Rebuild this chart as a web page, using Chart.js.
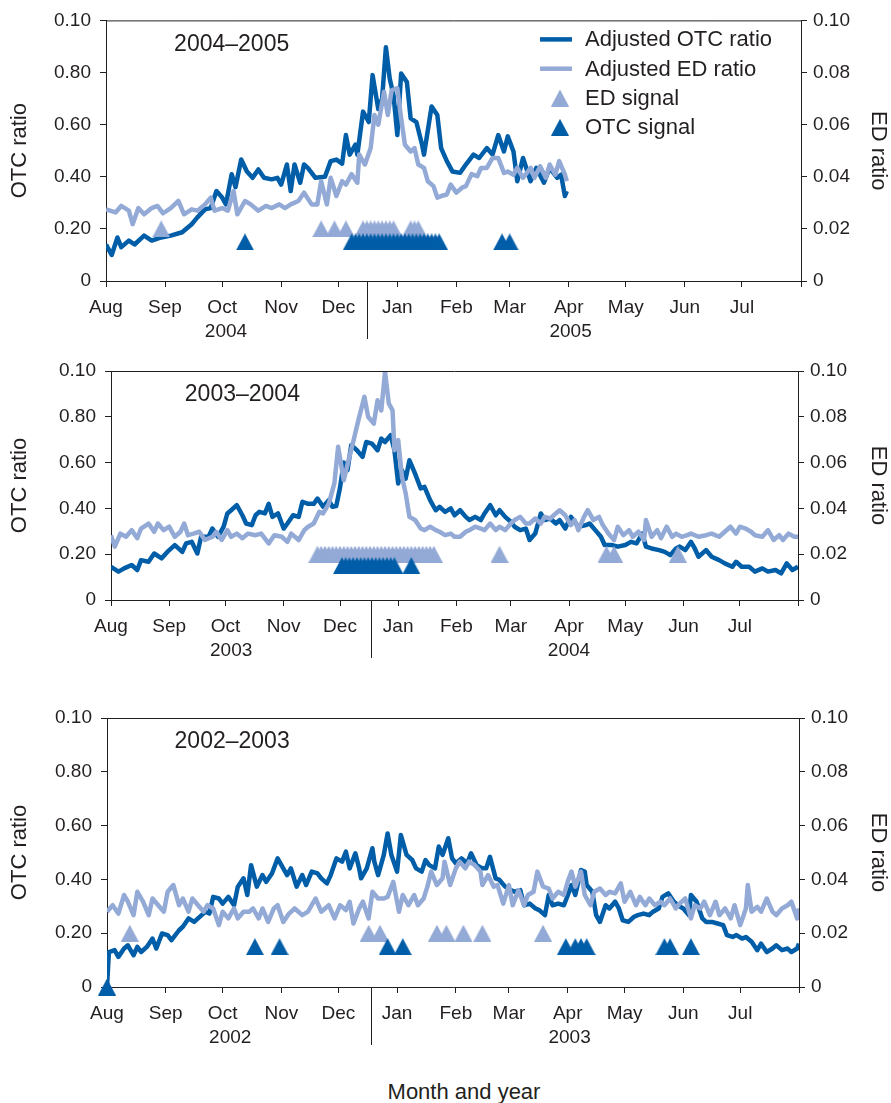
<!DOCTYPE html>
<html>
<head>
<meta charset="utf-8">
<script src="https://cdn.jsdelivr.net/npm/chart.js@4.4.0/dist/chart.umd.min.js"></script>
<style>
  body { margin: 0; background: #fff; width: 891px; height: 1103px; position: relative; overflow: hidden;
         font-family: "Liberation Sans", Arial, sans-serif; }
  canvas { position: absolute; left: 0; }
  #xtitle { position: absolute; left: 314px; width: 300px; top: 1079px; text-align: center;
            font-size: 22px; line-height: 26px; color: #231f20; }
</style>
</head>
<body>
<div id="xtitle">Month and year</div>
<script>
// ---- data: [day since Aug 1, value] ----
const monthLabels = ['Aug', 'Sep', 'Oct', 'Nov', 'Dec', 'Jan', 'Feb', 'Mar', 'Apr', 'May', 'Jun', 'Jul', ''];
const monthStarts = [0, 31, 61, 92, 122, 153, 184, 212, 243, 273, 304, 334, 365];
const monthStartsLeap = [0, 31, 61, 92, 122, 153, 184, 213, 244, 274, 305, 335, 366];
const otcTickValues = [0, 0.2, 0.4, 0.6, 0.8, 1];
const otcTickLabels = ['0', '0.20', '0.40', '0.60', '0.80', '0.10'];
const edTickValues = [0, 0.02, 0.04, 0.06, 0.08, 0.1];
const edTickLabels = ['0', '0.02', '0.04', '0.06', '0.08', '0.10'];
const OTC_SIGNAL_LEVEL = 0.15;
const ED_SIGNAL_LEVEL = 0.20;

// 2004-2005
const otc0405 = [[0,0.14],[3,0.10],[6,0.167],[8,0.13],[12,0.155],[15,0.14],[20,0.174],[24,0.155],[29,0.167],[34,0.174],[40,0.187],[45,0.218],[48,0.244],[52,0.275],[55,0.28],[58,0.345],[61,0.32],[63,0.294],[66,0.41],[68,0.36],[71,0.466],[74,0.42],[77,0.396],[80,0.428],[83,0.396],[87,0.39],[90,0.396],[92,0.37],[95,0.447],[97,0.345],[99,0.447],[102,0.377],[104,0.447],[106,0.434],[110,0.396],[115,0.40],[118,0.46],[121,0.466],[124,0.45],[126,0.56],[128,0.485],[131,0.523],[132,0.485],[135,0.65],[138,0.61],[140,0.79],[143,0.66],[145,0.70],[147,0.897],[149,0.777],[151,0.713],[153,0.56],[155,0.796],[158,0.764],[160,0.624],[163,0.61],[166,0.523],[167,0.485],[171,0.67],[174,0.637],[176,0.51],[179,0.46],[182,0.42],[186,0.415],[189,0.447],[193,0.485],[196,0.472],[200,0.51],[203,0.485],[206,0.56],[209,0.497],[211,0.555],[214,0.497],[216,0.383],[219,0.472],[223,0.383],[226,0.434],[230,0.377],[233,0.434],[237,0.396],[239,0.408],[241,0.326],[242,0.345]];
const ed0405 = [[0,0.0275],[5,0.0263],[8,0.0288],[12,0.027],[14,0.0218],[17,0.028],[20,0.0256],[24,0.028],[27,0.0288],[30,0.026],[34,0.028],[38,0.0307],[41,0.0256],[45,0.0275],[48,0.027],[52,0.0294],[55,0.032],[57,0.027],[61,0.028],[64,0.027],[67,0.0345],[69,0.0256],[73,0.0307],[76,0.0294],[80,0.027],[84,0.0288],[87,0.028],[91,0.0294],[94,0.028],[97,0.0294],[101,0.0307],[104,0.0339],[108,0.0294],[111,0.0294],[113,0.0383],[116,0.0294],[118,0.0396],[121,0.0326],[124,0.0383],[126,0.037],[129,0.041],[132,0.0377],[133,0.0485],[136,0.0447],[139,0.051],[141,0.0637],[143,0.06],[146,0.0726],[148,0.0637],[150,0.0732],[153,0.074],[155,0.0624],[157,0.0523],[160,0.0497],[162,0.051],[164,0.0447],[167,0.0434],[169,0.0383],[172,0.0364],[174,0.032],[176,0.0326],[179,0.0332],[181,0.037],[184,0.0339],[187,0.0358],[189,0.0364],[192,0.041],[195,0.0402],[197,0.0434],[200,0.0434],[203,0.0472],[206,0.0472],[209,0.0415],[211,0.042],[214,0.0408],[216,0.0434],[219,0.0396],[223,0.0434],[225,0.0396],[228,0.044],[231,0.0396],[233,0.0447],[236,0.0408],[238,0.046],[241,0.0408],[242,0.0383]];
const edSignal0405 = [29, 113, 120, 126, 135, 137, 139, 141, 143, 145, 147, 149, 151, 160, 162, 164];
const otcSignal0405 = [73, 129, 131, 133, 135, 137, 139, 141, 143, 145, 147, 149, 151, 153, 155, 157, 159, 161, 163, 165, 167, 169, 171, 173, 175, 208, 212];

// 2003-2004
const otc0304 = [[0,0.145],[4,0.124],[7,0.138],[11,0.153],[14,0.131],[16,0.174],[20,0.167],[23,0.203],[27,0.182],[30,0.21],[34,0.24],[38,0.21],[40,0.247],[43,0.254],[46,0.203],[48,0.276],[52,0.276],[54,0.312],[57,0.276],[60,0.32],[62,0.378],[64,0.392],[67,0.414],[70,0.37],[72,0.334],[75,0.327],[77,0.37],[79,0.385],[82,0.378],[84,0.42],[86,0.363],[89,0.378],[92,0.312],[94,0.334],[97,0.37],[100,0.363],[102,0.429],[105,0.42],[108,0.42],[110,0.443],[113,0.407],[116,0.436],[118,0.407],[120,0.41],[122,0.49],[124,0.6],[126,0.567],[128,0.676],[131,0.654],[134,0.625],[136,0.69],[139,0.683],[142,0.654],[144,0.705],[146,0.69],[149,0.72],[151,0.654],[153,0.509],[155,0.567],[157,0.53],[159,0.61],[162,0.552],[165,0.487],[167,0.494],[170,0.436],[173,0.392],[175,0.407],[178,0.385],[181,0.4],[183,0.37],[186,0.392],[189,0.363],[191,0.349],[194,0.363],[197,0.349],[199,0.378],[202,0.414],[205,0.37],[207,0.392],[210,0.363],[213,0.342],[215,0.32],[218,0.305],[221,0.312],[223,0.262],[226,0.29],[229,0.378],[231,0.349],[234,0.356],[237,0.334],[239,0.349],[242,0.312],[245,0.363],[249,0.32],[253,0.327],[255,0.334],[258,0.305],[261,0.276],[263,0.24],[267,0.24],[270,0.233],[274,0.24],[277,0.254],[280,0.247],[283,0.29],[285,0.233],[288,0.225],[292,0.218],[295,0.21],[298,0.196],[301,0.225],[303,0.233],[306,0.218],[309,0.254],[311,0.225],[313,0.189],[317,0.218],[320,0.189],[324,0.174],[327,0.16],[331,0.145],[333,0.167],[336,0.145],[340,0.145],[343,0.124],[347,0.138],[350,0.124],[354,0.131],[357,0.116],[360,0.16],[363,0.131],[366,0.145]];
const ed0304 = [[0,0.0283],[2,0.0233],[5,0.029],[8,0.0276],[11,0.0305],[14,0.027],[16,0.0312],[20,0.0334],[23,0.0298],[25,0.0334],[28,0.0305],[31,0.032],[34,0.0276],[37,0.0298],[39,0.0334],[41,0.0283],[44,0.029],[47,0.0298],[50,0.0262],[54,0.0276],[56,0.0298],[59,0.0262],[62,0.0305],[64,0.0276],[67,0.029],[70,0.027],[73,0.029],[77,0.0283],[80,0.029],[84,0.0247],[87,0.0283],[91,0.0276],[94,0.0254],[96,0.029],[100,0.0262],[103,0.0305],[105,0.032],[108,0.0334],[111,0.0385],[113,0.0378],[116,0.042],[119,0.0509],[121,0.0669],[124,0.0523],[127,0.0625],[129,0.069],[132,0.0792],[135,0.0887],[137,0.08],[140,0.077],[142,0.0872],[144,0.0828],[146,0.0996],[148,0.0858],[150,0.0828],[151,0.0654],[153,0.0698],[155,0.0538],[157,0.0465],[159,0.0363],[162,0.0349],[165,0.0312],[167,0.0305],[170,0.032],[173,0.0305],[175,0.0298],[178,0.0283],[181,0.029],[183,0.0276],[186,0.0276],[189,0.0298],[191,0.0305],[194,0.032],[197,0.0312],[199,0.0305],[202,0.0334],[205,0.0305],[207,0.032],[210,0.0305],[213,0.0334],[215,0.0349],[218,0.0363],[221,0.0334],[223,0.0334],[226,0.0356],[229,0.0334],[231,0.0363],[234,0.0356],[237,0.0378],[239,0.0392],[242,0.037],[245,0.0327],[247,0.0349],[249,0.0305],[252,0.0363],[254,0.0392],[257,0.0349],[260,0.0363],[262,0.0327],[265,0.029],[268,0.0262],[270,0.032],[273,0.0283],[276,0.0305],[278,0.0276],[281,0.0298],[284,0.0262],[285,0.0349],[288,0.0276],[291,0.0305],[293,0.027],[296,0.032],[299,0.0276],[301,0.029],[304,0.0276],[307,0.0283],[309,0.029],[313,0.0276],[317,0.0283],[320,0.029],[324,0.0276],[327,0.0298],[330,0.032],[333,0.029],[335,0.032],[338,0.0312],[341,0.0298],[343,0.0283],[347,0.0276],[350,0.0305],[353,0.0262],[356,0.0283],[358,0.0262],[361,0.029],[364,0.0276],[366,0.0276]];
const edSignal0304 = [110, 112, 114, 116, 118, 120, 122, 124, 126, 128, 130, 132, 134, 136, 138, 140, 142, 144, 146, 148, 150, 152, 154, 156, 158, 160, 162, 164, 166, 168, 170, 172, 207, 264, 268, 302];
const otcSignal0304 = [123, 125, 127, 129, 131, 133, 135, 137, 139, 141, 143, 145, 147, 149, 151, 160];

// 2002-2003
const otc0203 = [[0,0],[1,0.13],[4,0.137],[6,0.112],[9,0.143],[11,0.155],[14,0.118],[16,0.149],[18,0.13],[21,0.149],[24,0.18],[26,0.143],[29,0.199],[32,0.193],[34,0.174],[38,0.211],[40,0.224],[43,0.255],[46,0.242],[48,0.255],[52,0.28],[54,0.273],[56,0.335],[59,0.329],[61,0.31],[64,0.335],[67,0.304],[69,0.373],[72,0.404],[74,0.342],[76,0.453],[79,0.373],[82,0.416],[84,0.391],[87,0.422],[90,0.478],[92,0.453],[95,0.416],[97,0.441],[100,0.373],[103,0.416],[105,0.379],[108,0.429],[111,0.422],[113,0.404],[116,0.385],[118,0.416],[121,0.478],[124,0.466],[126,0.503],[128,0.441],[131,0.497],[133,0.441],[134,0.404],[137,0.441],[140,0.516],[141,0.466],[143,0.416],[146,0.491],[148,0.571],[150,0.491],[153,0.429],[155,0.565],[158,0.491],[161,0.472],[163,0.441],[166,0.429],[168,0.472],[170,0.453],[173,0.441],[175,0.522],[177,0.491],[180,0.553],[182,0.478],[184,0.46],[187,0.478],[190,0.46],[192,0.497],[195,0.453],[198,0.441],[200,0.441],[202,0.484],[205,0.404],[207,0.398],[210,0.373],[213,0.36],[215,0.354],[218,0.36],[220,0.304],[223,0.31],[226,0.292],[228,0.286],[231,0.267],[233,0.342],[235,0.304],[238,0.31],[241,0.304],[243,0.34],[245,0.379],[247,0.342],[250,0.435],[252,0.429],[253,0.379],[256,0.354],[258,0.267],[260,0.242],[263,0.304],[265,0.292],[268,0.317],[270,0.292],[272,0.248],[275,0.242],[278,0.261],[280,0.267],[283,0.273],[286,0.267],[288,0.28],[291,0.292],[293,0.335],[296,0.348],[299,0.317],[301,0.304],[304,0.292],[307,0.267],[308,0.342],[311,0.317],[314,0.255],[316,0.242],[319,0.242],[322,0.236],[325,0.23],[327,0.193],[330,0.186],[332,0.193],[335,0.18],[337,0.186],[340,0.168],[343,0.137],[345,0.161],[348,0.13],[351,0.143],[353,0.155],[356,0.137],[359,0.143],[361,0.13],[364,0.143],[365,0.161]];
const ed0203 = [[0,0.028],[3,0.0304],[6,0.0273],[9,0.0342],[11,0.0317],[14,0.0267],[16,0.0354],[19,0.0317],[22,0.0267],[24,0.0329],[27,0.0304],[30,0.028],[32,0.0354],[35,0.0379],[38,0.0304],[40,0.0329],[43,0.028],[45,0.0329],[48,0.0304],[51,0.028],[53,0.0304],[56,0.0292],[59,0.023],[61,0.028],[64,0.0255],[67,0.0292],[69,0.0255],[72,0.028],[75,0.028],[77,0.0292],[80,0.0255],[82,0.0292],[85,0.0242],[88,0.0292],[90,0.0304],[93,0.0242],[96,0.0273],[99,0.0292],[103,0.0267],[106,0.028],[110,0.0329],[113,0.028],[117,0.0304],[120,0.0255],[123,0.0304],[126,0.0286],[128,0.0317],[130,0.0236],[133,0.0292],[135,0.0317],[138,0.0255],[140,0.0354],[143,0.0329],[146,0.0329],[148,0.0335],[151,0.0391],[154,0.028],[156,0.0342],[159,0.0304],[162,0.0342],[164,0.0304],[167,0.0329],[169,0.0373],[171,0.0429],[174,0.0379],[177,0.0404],[178,0.0466],[181,0.0379],[184,0.0441],[186,0.0466],[189,0.0441],[191,0.0466],[194,0.0453],[197,0.0429],[198,0.0379],[201,0.0416],[204,0.0373],[206,0.0379],[209,0.031],[212,0.0379],[214,0.0304],[217,0.036],[220,0.0304],[222,0.0342],[225,0.0354],[227,0.0429],[230,0.0373],[233,0.0366],[235,0.0329],[238,0.0354],[241,0.0342],[243,0.0391],[245,0.0429],[247,0.0373],[250,0.0429],[252,0.0342],[255,0.0304],[257,0.0354],[260,0.0366],[263,0.0342],[265,0.0354],[268,0.0348],[271,0.0385],[273,0.0317],[276,0.0354],[279,0.0304],[281,0.0335],[284,0.0304],[286,0.0329],[289,0.0304],[292,0.0317],[294,0.0304],[297,0.0329],[300,0.0292],[302,0.031],[305,0.0329],[308,0.0255],[310,0.0304],[313,0.0292],[315,0.0317],[318,0.0267],[321,0.0317],[323,0.0267],[326,0.0292],[329,0.0255],[331,0.0304],[334,0.023],[337,0.0292],[338,0.0379],[340,0.028],[343,0.0298],[345,0.028],[348,0.0329],[351,0.028],[353,0.0267],[356,0.0292],[359,0.0304],[361,0.0317],[364,0.0255],[365,0.0292]];
const edSignal0203 = [12, 138, 144, 174, 179, 188, 198, 230];
const otcSignal0203 = [78, 91, 148, 156, 242, 247, 250, 253, 294, 297, 308];
const otcSignal0203Start = [[0, 0]];

// ---- styling ----
const DARK = '#005da8';
const LIGHT = '#93a9d6';
const INK = '#231f20';
const FONT = '"Liberation Sans", Arial, sans-serif';
Chart.defaults.font.family = FONT;
Chart.defaults.color = INK;

function triangleImage(color) {
  const c = document.createElement('canvas');
  c.width = 18; c.height = 17;
  const g = c.getContext('2d');
  g.fillStyle = color;
  g.beginPath();
  g.moveTo(9, 0); g.lineTo(18, 17); g.lineTo(0, 17); g.closePath();
  g.fill();
  return c;
}
const darkTri = triangleImage(DARK);
const lightTri = triangleImage(LIGHT);

const decorPlugin = {
  id: 'decor',
  afterDraw(chart, args, opts) {
    const { ctx, chartArea: a } = chart;
    const x = chart.scales.x;
    ctx.save();
    ctx.strokeStyle = INK;
    ctx.lineWidth = 1;
    ctx.beginPath();
    ctx.moveTo(a.left, a.top + 0.5);
    ctx.lineTo(a.right, a.top + 0.5);
    ctx.stroke();

    const dx = Math.round(x.getPixelForValue(opts.divider)) + 0.5;
    ctx.beginPath();
    ctx.moveTo(dx, a.bottom);
    ctx.lineTo(dx, a.bottom + 58);
    ctx.stroke();

    ctx.fillStyle = INK;
    ctx.textAlign = 'center';
    ctx.textBaseline = 'middle';
    ctx.font = '19px ' + FONT;
    opts.years.forEach(([d, t]) => ctx.fillText(t, x.getPixelForValue(d), a.bottom + 51));

    ctx.font = '23px ' + FONT;
    ctx.fillText(opts.title, x.getPixelForValue(opts.titleDay), a.top + 24);

    if (opts.legend) {
      const items = [
        { text: 'Adjusted OTC ratio', line: DARK },
        { text: 'Adjusted ED ratio', line: LIGHT },
        { text: 'ED signal', tri: lightTri },
        { text: 'OTC signal', tri: darkTri }
      ];
      ctx.font = '22px ' + FONT;
      ctx.textAlign = 'left';
      items.forEach((it, i) => {
        const y = a.top + 19 + i * 29.3;
        if (it.line) {
          ctx.strokeStyle = it.line;
          ctx.lineWidth = 4.5;
          ctx.beginPath();
          ctx.moveTo(a.right - 261, y);
          ctx.lineTo(a.right - 229, y);
          ctx.stroke();
        } else {
          ctx.drawImage(it.tri, a.right - 250, y - 8.5);
        }
        ctx.fillStyle = INK;
        ctx.fillText(it.text, a.right - 216, y + 1);
      });
    }
    ctx.restore();
  }
};

const panels = [
  { top: 0, height: 345, area: { left: 106, right: 801, top: 18, bottom: 281 },
    ticks: monthStarts, otc: otc0405, ed: ed0405,
    otcSig: otcSignal0405.map(d => [d, OTC_SIGNAL_LEVEL]),
    edSig: edSignal0405.map(d => [d, ED_SIGNAL_LEVEL]),
    decor: { title: '2004–2005', titleDay: 66, divider: 137, years: [[63, '2004'], [244, '2005']], legend: true } },
  { top: 345, height: 330, area: { left: 111, right: 798, top: 26, bottom: 255 },
    ticks: monthStartsLeap, otc: otc0304, ed: ed0304,
    otcSig: otcSignal0304.map(d => [d, OTC_SIGNAL_LEVEL]),
    edSig: edSignal0304.map(d => [d, ED_SIGNAL_LEVEL]),
    decor: { title: '2003–2004', titleDay: 70, divider: 138.5, years: [[64, '2003'], [244, '2004']], legend: false } },
  { top: 690, height: 370, area: { left: 107, right: 799, top: 28, bottom: 297 },
    ticks: monthStarts, otc: otc0203, ed: ed0203,
    otcSig: otcSignal0203Start.concat(otcSignal0203.map(d => [d, OTC_SIGNAL_LEVEL])),
    edSig: edSignal0203.map(d => [d, ED_SIGNAL_LEVEL]),
    decor: { title: '2002–2003', titleDay: 66, divider: 139, years: [[65, '2002'], [244, '2003']], legend: false } }
];

const tickFont = { family: FONT, size: 19 };
const titleFont = { family: FONT, size: 22 };

panels.forEach(p => {
  const canvas = document.createElement('canvas');
  canvas.width = 891;
  canvas.height = p.height;
  canvas.style.top = p.top + 'px';
  document.body.appendChild(canvas);
  const a = p.area;

  new Chart(canvas, {
    type: 'line',
    data: {
      datasets: [
        { label: 'OTC signal', data: p.otcSig, showLine: false, pointStyle: darkTri, pointRadius: 9,
          yAxisID: 'y', clip: false, order: 0 },
        { label: 'ED signal', data: p.edSig, showLine: false, pointStyle: lightTri, pointRadius: 9,
          yAxisID: 'y', clip: false, order: 1 },
        { label: 'Adjusted ED ratio', data: p.ed, borderColor: LIGHT, borderWidth: 4.5, pointRadius: 0,
          yAxisID: 'y2', order: 2 },
        { label: 'Adjusted OTC ratio', data: p.otc, borderColor: DARK, borderWidth: 4.5, pointRadius: 0,
          yAxisID: 'y', order: 3 }
      ]
    },
    options: {
      responsive: false,
      animation: false,
      devicePixelRatio: 1,
      layout: { padding: { top: a.top, left: 0, right: 0, bottom: 0 } },
      elements: { line: { tension: 0, borderJoinStyle: 'round', borderCapStyle: 'butt' } },
      plugins: { legend: { display: false }, tooltip: { enabled: false }, decor: p.decor },
      scales: {
        x: {
          type: 'linear', position: 'bottom', min: 0, max: p.ticks[p.ticks.length - 1],
          afterBuildTicks: s => { s.ticks = p.ticks.map(v => ({ value: v })); },
          afterFit: s => { s.height = p.height - a.bottom; },
          ticks: { autoSkip: false, maxRotation: 0, minRotation: 0, padding: 9, color: INK, font: tickFont,
                   callback: (v, i) => monthLabels[i] },
          grid: { drawOnChartArea: false, drawTicks: true, tickLength: 6, tickColor: INK },
          border: { display: true, color: INK, width: 1 }
        },
        y: {
          position: 'left', min: 0, max: 1,
          afterBuildTicks: s => { s.ticks = otcTickValues.map(v => ({ value: v })); },
          afterFit: s => { s.width = a.left; },
          ticks: { padding: 9, color: INK, font: tickFont, callback: (v, i) => otcTickLabels[i] },
          grid: { drawOnChartArea: false, drawTicks: true, tickLength: 6, tickColor: INK },
          border: { display: true, color: INK, width: 1 },
          title: { display: true, text: 'OTC ratio', color: INK, font: titleFont, padding: { top: 7, bottom: 0 } }
        },
        y2: {
          position: 'right', min: 0, max: 0.1,
          afterBuildTicks: s => { s.ticks = edTickValues.map(v => ({ value: v })); },
          afterFit: s => { s.width = 891 - a.right; },
          ticks: { padding: 6, color: INK, font: tickFont, callback: (v, i) => edTickLabels[i] },
          grid: { drawOnChartArea: false, drawTicks: true, tickLength: 6, tickColor: INK },
          border: { display: true, color: INK, width: 1 },
          title: { display: true, text: 'ED ratio', color: INK, font: titleFont, padding: { top: 0, bottom: 0 } }
        }
      }
    },
    plugins: [decorPlugin]
  });
});
</script>
</body>
</html>
